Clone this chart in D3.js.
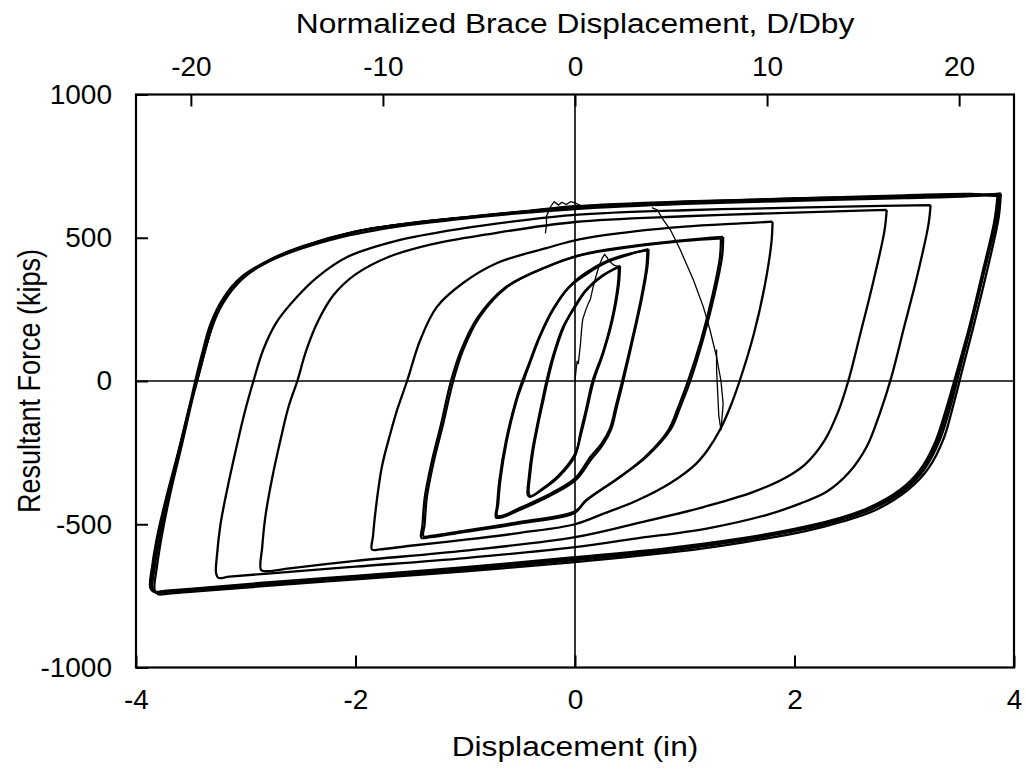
<!DOCTYPE html>
<html>
<head>
<meta charset="utf-8">
<script src="https://cdn.jsdelivr.net/npm/d3@7"></script>
<style>
  html, body { margin: 0; padding: 0; background: #fff; }
  svg text { font-family: "Liberation Sans", Arial, Helvetica, sans-serif; fill: #000; }
</style>
</head>
<body>
<svg id="chart" width="1026" height="771"></svg>
<script>
// ---------------- DATA ----------------
const xTicks = [-4, -2, 0, 2, 4];
const yTicks = [-1000, -500, 0, 500, 1000];
const topTicks = [-20, -10, 0, 10, 20];
const dby = 0.175; // inches per unit of D/Dby

const xTitle = "Displacement (in)";
const yTitle = "Resultant Force (kips)";
const topTitle = "Normalized Brace Displacement, D/Dby";

// cycles at ~±3.87 in
const cycle387a = [[3.87,650],[3.84,560],[3.74,400],[3.62,210],[3.50,30],[3.42,-90],[3.32,-210],[3.18,-310],[3.00,-382],[2.70,-448],[2.40,-487],[2.05,-520],[1.50,-558],[0.90,-590],[0.00,-625],[-1.00,-658],[-2.00,-686],[-2.90,-712],[-3.45,-728],[-3.72,-736],[-3.82,-738],[-3.85,-725],[-3.83,-650],[-3.79,-560],[-3.74,-460],[-3.64,-290],[-3.55,-150],[-3.46,0],[-3.40,92],[-3.32,200],[-3.20,292],[-3.05,360],[-2.80,420],[-2.50,468],[-2.00,522],[-1.50,551],[-1.00,571],[-0.50,590],[0.00,606],[1.00,623],[2.00,634],[3.00,643],[3.60,648],[3.87,652]];
const cycle387b = [[3.85,645],[3.82,555],[3.72,390],[3.60,200],[3.47,20],[3.38,-100],[3.28,-215],[3.14,-312],[2.96,-380],[2.66,-445],[2.36,-484],[2.00,-516],[1.45,-553],[0.85,-583],[0.00,-615],[-1.00,-650],[-2.00,-680],[-2.90,-706],[-3.45,-724],[-3.72,-732],[-3.84,-735],[-3.87,-722],[-3.85,-640],[-3.80,-530],[-3.72,-400],[-3.61,-240],[-3.52,-100],[-3.43,20],[-3.36,120],[-3.28,220],[-3.15,305],[-3.00,368],[-2.75,425],[-2.45,472],[-1.95,525],[-1.45,553],[-0.95,574],[-0.45,593],[0.00,610],[1.00,627],[2.00,637],[3.00,645],[3.60,650],[3.85,645]];
const cycle387c = [[3.88,655],[3.86,570],[3.77,410],[3.65,220],[3.53,40],[3.45,-80],[3.36,-200],[3.22,-305],[3.04,-378],[2.74,-450],[2.44,-490],[2.10,-524],[1.55,-562],[0.95,-595],[0.00,-632],[-1.00,-664],[-2.00,-692],[-2.90,-718],[-3.45,-734],[-3.70,-742],[-3.80,-744],[-3.83,-730],[-3.81,-650],[-3.76,-530],[-3.68,-380],[-3.58,-220],[-3.49,-70],[-3.41,50],[-3.34,150],[-3.24,250],[-3.10,330],[-2.90,395],[-2.60,448],[-2.10,505],[-1.60,540],[-1.10,563],[-0.55,584],[0.00,600],[1.00,618],[2.00,629],[3.00,638],[3.60,645],[3.88,655]];
const cycle387d = [[3.86,648],[3.83,565],[3.73,395],[3.61,205],[3.49,25],[3.40,-95],[3.30,-212],[3.16,-311],[2.98,-381],[2.68,-447],[2.38,-486],[2.02,-518],[1.48,-556],[0.88,-587],[0.00,-620],[-1.00,-654],[-2.00,-683],[-2.90,-709],[-3.45,-726],[-3.72,-734],[-3.83,-737],[-3.86,-724],[-3.84,-645],[-3.80,-545],[-3.73,-430],[-3.62,-265],[-3.53,-125],[-3.445,10],[-3.38,106],[-3.30,210],[-3.17,298],[-3.02,364],[-2.77,422],[-2.47,470],[-1.97,523],[-1.47,552],[-0.97,572],[-0.47,591],[0.00,608],[1.00,625],[2.00,637],[3.00,648],[3.60,653],[3.86,648]];

// cycle at ~±3.26 in
const cycle326 = [[3.24,614],[3.22,545],[3.12,370],[3.00,190],[2.88,10],[2.78,-110],[2.66,-228],[2.50,-318],[2.30,-385],[2.05,-428],[1.75,-467],[1.20,-515],[0.55,-550],[0.00,-580],[-1.00,-618],[-2.00,-648],[-2.80,-672],[-3.15,-683],[-3.25,-687],[-3.27,-672],[-3.26,-600],[-3.23,-500],[-3.17,-380],[-3.09,-240],[-3.01,-110],[-2.93,0],[-2.84,110],[-2.72,205],[-2.53,295],[-2.35,362],[-2.08,432],[-1.62,490],[-1.02,533],[-0.50,560],[0.00,580],[1.00,596],[2.00,605],[2.80,611],[3.24,614]];

// cycle at ~±2.85 in
const cycle285 = [[2.84,597],[2.82,525],[2.72,350],[2.60,165],[2.49,0],[2.40,-105],[2.27,-210],[2.10,-290],[1.93,-335],[1.62,-388],[1.17,-440],[0.56,-497],[0.00,-545],[-1.00,-592],[-2.00,-628],[-2.60,-654],[-2.80,-664],[-2.86,-660],[-2.85,-580],[-2.82,-470],[-2.76,-340],[-2.68,-200],[-2.61,-90],[-2.53,0],[-2.45,105],[-2.34,210],[-2.20,300],[-2.00,372],[-1.70,433],[-1.30,478],[-0.80,512],[0.00,555],[1.00,575],[2.00,588],[2.60,595],[2.84,597]];

// cycle at ~±1.80 in
const cycle180 = [[1.80,556],[1.79,485],[1.73,335],[1.63,165],[1.50,0],[1.41,-95],[1.32,-171],[1.21,-240],[1.10,-290],[0.87,-356],[0.56,-418],[0.26,-463],[0.00,-500],[-0.50,-530],[-1.00,-554],[-1.50,-575],[-1.78,-588],[-1.85,-588],[-1.84,-540],[-1.82,-462],[-1.76,-300],[-1.68,-180],[-1.62,-100],[-1.53,0],[-1.41,143],[-1.26,258],[-1.02,342],[-0.71,412],[-0.26,464],[0.05,495],[0.56,523],[1.00,539],[1.50,550],[1.80,556]];

// cycles at ~±1.35 in
const cycle135a = [[1.35,503],[1.34,435],[1.27,300],[1.17,150],[1.05,0],[0.96,-90],[0.87,-170],[0.65,-265],[0.41,-335],[0.11,-415],[0.00,-455],[-0.50,-492],[-1.00,-522],[-1.30,-540],[-1.38,-542],[-1.37,-500],[-1.35,-405],[-1.29,-286],[-1.20,-147],[-1.11,0],[-1.02,108],[-0.87,223],[-0.62,328],[-0.26,398],[0.05,440],[0.50,470],[1.00,492],[1.35,503]];
const cycle135b = [[1.33,498],[1.32,430],[1.25,295],[1.15,145],[1.03,0],[0.94,-92],[0.85,-172],[0.63,-268],[0.39,-340],[0.09,-420],[0.00,-460],[-0.50,-497],[-1.00,-527],[-1.32,-545],[-1.40,-547],[-1.39,-505],[-1.37,-410],[-1.31,-290],[-1.22,-150],[-1.13,0],[-1.04,105],[-0.89,220],[-0.64,325],[-0.28,395],[0.03,437],[0.50,467],[1.00,489],[1.33,498]];

// cycles at ~±0.68 in
const cycle068a = [[0.66,457],[0.65,395],[0.60,285],[0.52,145],[0.43,0],[0.37,-90],[0.32,-165],[0.24,-220],[0.14,-265],[0.00,-340],[-0.30,-408],[-0.50,-443],[-0.66,-470],[-0.71,-470],[-0.70,-430],[-0.68,-346],[-0.62,-206],[-0.53,-66],[-0.47,0],[-0.41,63],[-0.32,154],[-0.20,248],[-0.05,330],[0.10,378],[0.30,420],[0.50,445],[0.66,457]];
const cycle068b = [[0.67,460],[0.66,400],[0.61,290],[0.53,150],[0.44,0],[0.38,-92],[0.33,-168],[0.25,-225],[0.15,-272],[0.00,-348],[-0.30,-414],[-0.50,-449],[-0.67,-476],[-0.72,-476],[-0.71,-435],[-0.69,-350],[-0.63,-210],[-0.54,-70],[-0.48,0],[-0.42,60],[-0.33,150],[-0.21,245],[-0.06,325],[0.10,372],[0.30,416],[0.50,442],[0.67,460]];

// cycles at ~±0.40 in
const cycle040a = [[0.40,398],[0.39,335],[0.33,205],[0.25,95],[0.16,0],[0.10,-100],[0.05,-180],[0.00,-262],[-0.15,-335],[-0.30,-380],[-0.40,-402],[-0.42,-395],[-0.41,-330],[-0.38,-240],[-0.33,-140],[-0.29,-70],[-0.25,0],[-0.19,90],[-0.10,190],[0.00,262],[0.10,318],[0.25,368],[0.40,398]];
const cycle040b = [[0.41,402],[0.40,340],[0.34,210],[0.26,100],[0.17,0],[0.11,-98],[0.06,-178],[0.00,-255],[-0.15,-330],[-0.30,-377],[-0.41,-404],[-0.43,-398],[-0.42,-335],[-0.39,-245],[-0.34,-145],[-0.30,-72],[-0.26,0],[-0.20,88],[-0.11,188],[0.00,258],[0.10,315],[0.25,366],[0.41,402]];

// thin irregular traces
const initialTrace = [[0.00,0],[0.01,40],[0.02,70],[0.03,60],[0.05,130],[0.06,180],[0.07,215],[0.10,250],[0.12,270],[0.14,285],[0.16,320],[0.18,350],[0.21,390],[0.23,412],[0.25,430],[0.27,442],[0.29,432],[0.31,420],[0.35,405],[0.40,398]];
const crossTrace = [[0.70,605],[0.75,597],[0.80,565],[0.87,527],[0.96,457],[1.08,352],[1.17,258],[1.23,178],[1.29,84],[1.33,0],[1.35,-80],[1.33,-171]];
const tickTrace = [[1.29,110],[1.29,40],[1.30,-40],[1.31,-120],[1.33,-171]];
const jagTrace = [[-0.27,515],[-0.26,545],[-0.26,575],[-0.24,592],[-0.22,610],[-0.19,626],[-0.15,614],[-0.12,624],[-0.08,616],[-0.04,626],[0.00,622],[0.05,612]];

const thickCycles = [cycle387a, cycle387b, cycle387c, cycle387d, cycle326, cycle285, cycle180, cycle135a, cycle135b, cycle068a, cycle068b, cycle040a, cycle040b];
const thinTraces = [initialTrace, crossTrace, tickTrace, jagTrace];

// ---------------- CHART ----------------
const svg = d3.select("#chart");
const pLeft = 136, pRight = 1014, pTop = 94.5, pBottom = 667.5;

const x = d3.scaleLinear().domain([-4, 4]).range([pLeft, pRight]);
const y = d3.scaleLinear().domain([-1000, 1000]).range([pBottom, pTop]);
const xTop = d3.scaleLinear().domain([-4 / dby, 4 / dby]).range([pLeft, pRight]);

const tickFont = 28;
const titleFont = 27;
const stretch = 1.175;
const plainFormat = d => String(d);

// zero lines
svg.append("line").attr("x1", pLeft).attr("x2", pRight).attr("y1", y(0)).attr("y2", y(0))
  .attr("stroke", "#000").attr("stroke-width", 1.6);
svg.append("line").attr("x1", x(0)).attr("x2", x(0)).attr("y1", pTop).attr("y2", pBottom)
  .attr("stroke", "#000").attr("stroke-width", 1.6);

// data
const line = d3.line().x(d => x(d[0])).y(d => y(d[1])).curve(d3.curveCatmullRom.alpha(0.5));
const plot = svg.append("g");
plot.selectAll("path.cyc").data(thickCycles).enter().append("path")
  .attr("class", "cyc").attr("d", line).attr("fill", "none")
  .attr("stroke", "#000").attr("stroke-width", 2.3).attr("stroke-linejoin", "round");
plot.selectAll("path.thin").data(thinTraces).enter().append("path")
  .attr("class", "thin").attr("d", d3.line().x(d => x(d[0])).y(d => y(d[1])))
  .attr("fill", "none").attr("stroke", "#000").attr("stroke-width", 1.3);

// axes
function styleAxis(g) {
  g.select(".domain").remove();
  g.selectAll(".tick line").attr("stroke", "#000").attr("stroke-width", 2);
  g.selectAll(".tick text").attr("font-size", tickFont).attr("fill", "#000")
    .attr("font-family", '"Liberation Sans", Arial, sans-serif');
}
svg.append("g").attr("transform", `translate(0,${pBottom})`)
  .call(d3.axisBottom(x).tickValues(xTicks).tickSize(-12).tickPadding(22).tickFormat(plainFormat))
  .call(styleAxis);
svg.append("g").attr("transform", `translate(${pLeft},0)`)
  .call(d3.axisLeft(y).tickValues(yTicks).tickSize(-12).tickPadding(24).tickFormat(plainFormat))
  .call(styleAxis);
svg.append("g").attr("transform", `translate(0,${pTop})`)
  .call(d3.axisTop(xTop).tickValues(topTicks).tickSize(-12).tickPadding(19).tickFormat(plainFormat))
  .call(styleAxis);

// frame
svg.append("rect").attr("x", pLeft).attr("y", pTop).attr("width", pRight - pLeft).attr("height", pBottom - pTop)
  .attr("fill", "none").attr("stroke", "#000").attr("stroke-width", 2.2);

// titles (horizontally widened like the reference lettering)
const cx = (pLeft + pRight) / 2;
svg.append("text").attr("transform", `translate(${cx},756) scale(${stretch},1)`)
  .attr("text-anchor", "middle").attr("font-size", titleFont).text(xTitle);
svg.append("text").attr("transform", `translate(${cx},33) scale(${stretch},1)`)
  .attr("text-anchor", "middle").attr("font-size", titleFont).text(topTitle);
svg.append("text").attr("transform", `translate(40,${(pTop + pBottom) / 2}) rotate(-90) scale(1,${stretch})`)
  .attr("text-anchor", "middle").attr("font-size", titleFont).text(yTitle);
</script>
</body>
</html>
